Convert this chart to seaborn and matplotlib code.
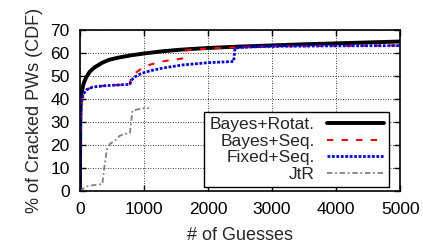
import matplotlib
matplotlib.use("Agg")
import matplotlib.pyplot as plt
import pandas as pd
import seaborn as sns

# values (guesses -> % cracked)
rotat_x = [0, 5, 10, 30, 60, 100, 150, 230, 350, 450, 600, 800, 1000, 1300, 1600,
           2000, 2500, 3000, 3500, 4000, 4500, 5000]
rotat_y = [0, 30, 38, 43.5, 47, 49.5, 51.8, 53.8, 55.8, 57, 58, 59, 59.8, 60.8, 61.5,
           62.2, 62.8, 63.3, 63.8, 64.2, 64.6, 65]

bseq_x = [0, 8, 20, 50, 100, 200, 400, 600, 780, 800, 850, 950, 1100, 1300, 1500,
          1620, 1650, 1700, 2000, 2500, 3000, 4000, 5000]
bseq_y = [0, 28, 38, 42, 44, 45.2, 45.8, 46.1, 46.4, 49.5, 51, 53, 55, 56.4, 57.2,
          57.7, 61, 61.3, 62, 62.6, 62.9, 63.1, 63.3]

fseq_x = [0, 8, 20, 50, 100, 200, 400, 600, 780, 800, 850, 950, 1100, 1300, 1600,
          2000, 2400, 2420, 2500, 3000, 4000, 5000]
fseq_y = [0, 28, 38, 42, 44, 45.2, 45.8, 46.1, 46.4, 48, 49.5, 51, 52.3, 53.5, 54.8,
          55.8, 56.3, 62, 62.5, 62.9, 63.1, 63.2]

jtr_x = [0, 50, 100, 200, 350, 380, 420, 470, 550, 620, 700, 780, 800, 820, 900, 1000, 1080]
jtr_y = [0, 1, 2, 2.5, 3, 10, 18, 20.5, 22, 24, 24.8, 25.2, 30, 35, 35.5, 36, 36]

sns.set_theme(style="ticks")
plt.rcParams["font.family"] = ["Liberation Sans", "DejaVu Sans"]

fig = plt.figure(figsize=(4.23, 2.46), dpi=100)
ax = fig.add_axes([0.189, 0.2236, 0.757, 0.6544])

sns.lineplot(x=rotat_x, y=rotat_y, ax=ax, color="black", lw=2.8,
             estimator=None, sort=False, label="Bayes+Rotat.")
sns.lineplot(x=bseq_x, y=bseq_y, ax=ax, color="red", lw=1.5, dashes=(3, 4),
             estimator=None, sort=False, label="Bayes+Seq.")
sns.lineplot(x=fseq_x, y=fseq_y, ax=ax, color="blue", lw=2.0, dashes=(1, 0.6),
             estimator=None, sort=False, label="Fixed+Seq.")
sns.lineplot(x=jtr_x, y=jtr_y, ax=ax, color="#808080", lw=1.3, dashes=(3, 1.5, 1, 1.5),
             estimator=None, sort=False, label="JtR")

ax.set_xlim(0, 5000)
ax.set_ylim(0, 70)
ax.set_xticks([0, 1000, 2000, 3000, 4000, 5000])
ax.set_yticks(range(0, 71, 10))
ax.tick_params(direction="in", top=True, right=True, length=4, width=1,
               labelsize=12.5, colors="black")
ax.tick_params(axis="x", pad=8)
ax.tick_params(axis="y", pad=7.5)
ax.grid(True, color="black", ls=(0, (1, 2)), lw=0.6)
for s in ax.spines.values():
    s.set_linewidth(1.2)
    s.set_color("black")

ax.set_xlabel("# of Guesses", fontsize=13, labelpad=7)
ax.set_ylabel("% of Cracked PWs (CDF)", fontsize=13, labelpad=5)

leg = ax.legend(loc="lower right", bbox_to_anchor=(0.966, 0.025), markerfirst=False,
                fontsize=12.5, frameon=True, fancybox=False, framealpha=1,
                edgecolor="black", borderpad=0.3, labelspacing=0.08,
                handlelength=3.3, handletextpad=0.7, borderaxespad=0)
leg.get_frame().set_linewidth(1.0)

fig.savefig("out.png", dpi=100)
